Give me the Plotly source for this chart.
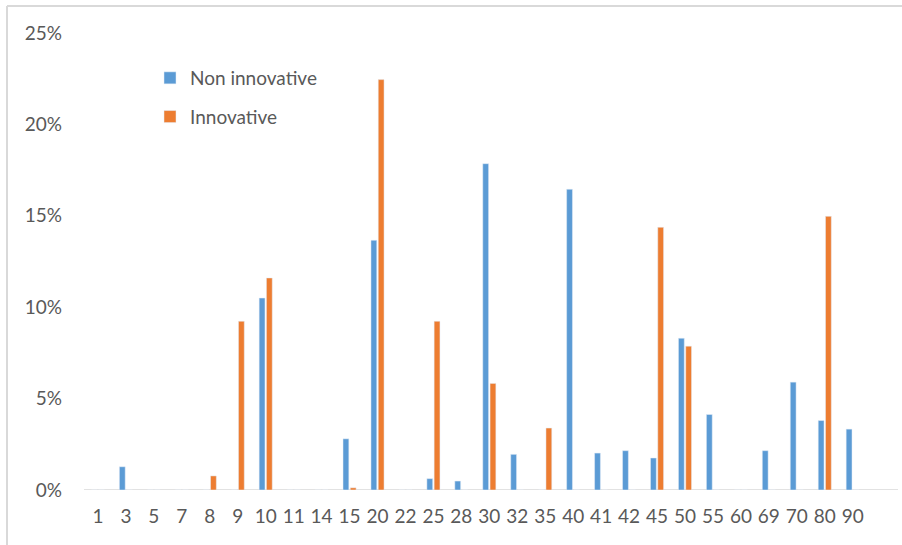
import plotly.graph_objects as go

categories = ["1", "3", "5", "7", "8", "9", "10", "11", "14", "15", "20", "22", "25", "28",
              "30", "32", "35", "40", "41", "42", "45", "50", "55", "60", "69", "70", "80", "90"]

non_innovative = [0, 1.27, 0, 0, 0, 0, 10.5, 0, 0, 2.8, 13.66, 0, 0.62, 0.49,
                  17.85, 1.95, 0, 16.45, 2.02, 2.15, 1.75, 8.3, 4.13, 0, 2.15, 5.9, 3.8, 3.33]

innovative = [0, 0, 0, 0, 0.77, 9.23, 11.6, 0, 0, 0.12, 22.45, 0, 9.23, 0,
              5.83, 0, 3.39, 0, 0, 0, 14.37, 7.87, 0, 0, 0, 0, 14.97, 0]

y_ticks = [0, 0.05, 0.10, 0.15, 0.20, 0.25]

FONT = "Lato"
GRAY = "#595959"

fig = go.Figure()
fig.add_trace(go.Bar(x=categories, y=[v / 100 for v in non_innovative], name="Non innovative",
                     marker_color="#5B9BD5", legendgroup="a"))
fig.add_trace(go.Bar(x=categories, y=[v / 100 for v in innovative], name="Innovative",
                     marker_color="#ED7D31", legendgroup="b"))

W, H = 902, 545
L, R, T, B = 84, 4, 33, 55
pw, ph = W - L - R, H - T - B

def px_x(x):
    return (x - L) / pw

def px_y(y):
    return (H - B - y) / ph

fig.update_layout(
    width=W, height=H,
    margin=dict(l=L, r=R, t=T, b=B),
    paper_bgcolor="white", plot_bgcolor="white",
    barmode="group", bargap=0.48, bargroupgap=0.2,
    font=dict(family=FONT, color=GRAY, size=19),
    showlegend=True,
    legend=dict(x=px_x(150), y=px_y(59), xanchor="left", yanchor="top",
                font=dict(size=19, color=GRAY, family=FONT),
                tracegroupgap=11, bgcolor="rgba(0,0,0,0)", traceorder="grouped"),
    xaxis=dict(type="category", range=[-0.5, len(categories) + 0.62],
               showgrid=False, zeroline=False, showline=False,
               ticks="", tickfont=dict(size=19, color=GRAY), ticklabelstandoff=13),
    yaxis=dict(range=[0, 0.25], tickvals=y_ticks, tickformat=".0%", showgrid=False,
               zeroline=False, showline=False, ticks="",
               tickfont=dict(size=19, color=GRAY), ticklabelstandoff=21),
    shapes=[
        dict(type="line", xref="paper", yref="y", x0=0, x1=1, y0=0, y1=0,
             line=dict(color="#D9D9D9", width=1.5), layer="below"),
        dict(type="line", xref="paper", yref="paper", x0=px_x(7), x1=px_x(903),
             y0=px_y(6), y1=px_y(6), line=dict(color="#D9D9D9", width=2)),
        dict(type="line", xref="paper", yref="paper", x0=px_x(7), x1=px_x(7),
             y0=px_y(6), y1=px_y(548), line=dict(color="#D9D9D9", width=2)),
    ],
)

fig.write_html("out.html")
